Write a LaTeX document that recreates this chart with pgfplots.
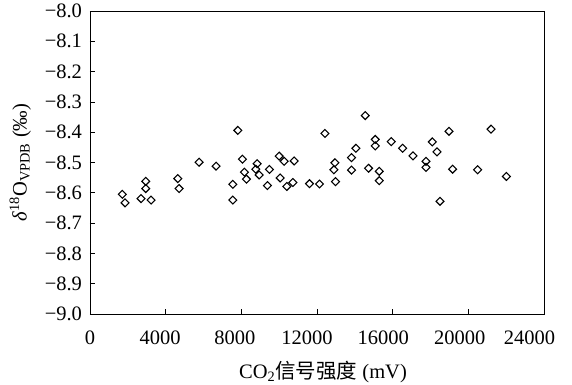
\documentclass[border=0pt]{standalone}
\usepackage{pgfplots}
\pgfplotsset{compat=1.18}
\usepackage{fontspec}
\setmainfont{Liberation Serif}
\newfontfamily\cjk{Noto Sans CJK SC}
\newcommand{\lsh}[2]{\makebox[0pt]{\mbox{#1}\hspace*{#2}}}
\begin{document}
\fontsize{20.5bp}{24bp}\selectfont
\begin{tikzpicture}
\begin{axis}[
  scale only axis,
  width=454bp, height=303bp,
  xmin=0, xmax=24000, ymin=-9, ymax=-8,
  scaled x ticks=false, scaled y ticks=false,
  xtick={0,4000,8000,12000,16000,20000,24000},
  xticklabels={\mbox{0},\lsh{4000}{11bp},\lsh{8000}{13bp},\lsh{12000}{20bp},\lsh{16000}{19bp},\lsh{20000}{17bp},\lsh{24000}{29bp}},
  ytick={-9,-8.9,-8.8,-8.7,-8.6,-8.5,-8.4,-8.3,-8.2,-8.1,-8},
  yticklabels={\mbox{−9.0},\mbox{−8.9},\mbox{−8.8},\mbox{−8.7},\mbox{−8.6},\mbox{−8.5},\mbox{−8.4},\mbox{−8.3},\mbox{−8.2},\mbox{−8.1},\mbox{−8.0}},
  tick align=inside,
  xtick pos=bottom, ytick pos=left,
  major tick length=5bp,
  axis line style={line width=1pt},
  tick style={line width=0.8pt, black},
  ticklabel style={font=\fontsize{20.5bp}{24bp}\selectfont},
  xticklabel style={yshift=-10bp},
  yticklabel style={xshift=-1bp},
  xlabel={CO\textsubscript{2}{\cjk 信号强度} (mV)},
  ylabel={\textit{δ}\textsuperscript{18}O\textsubscript{VPDB} (‰)},
  label style={font=\fontsize{20.5bp}{24bp}\selectfont},
  xlabel style={yshift=-2bp, xshift=6bp},
  ylabel style={yshift=0bp},
]
\addplot[only marks, mark=square, mark size=2.8bp, mark options={rotate=45, line width=1.1pt, black, fill=white}] coordinates {
(1709,-8.605) (1852,-8.633) (2698,-8.619) (2947,-8.562) (2947,-8.586)
(3228,-8.624) (4640,-8.553) (4709,-8.586) (5767,-8.499) (6667,-8.512)
(7815,-8.394) (7550,-8.572) (7550,-8.624) (8058,-8.489) (8164,-8.532)
(8270,-8.555) (8836,-8.504) (8767,-8.522) (8942,-8.541) (9487,-8.523)
(9381,-8.576) (10000,-8.479) (10053,-8.551) (10265,-8.496) (10794,-8.495)
(10407,-8.579) (10725,-8.566) (11603,-8.570) (12132,-8.571) (12418,-8.404)
(12947,-8.501) (12894,-8.524) (12979,-8.563) (13825,-8.484) (14058,-8.453)
(13825,-8.525) (14550,-8.345) (14725,-8.519) (15079,-8.424) (15079,-8.445)
(15291,-8.529) (15291,-8.560) (15926,-8.431) (16524,-8.453) (17074,-8.478)
(17762,-8.496) (17762,-8.516) (18095,-8.432) (18344,-8.465) (18503,-8.628)
(18979,-8.397) (19169,-8.522) (20492,-8.524) (21201,-8.390) (22011,-8.546)
};
\end{axis}
\pgfresetboundingbox
\path[use as bounding box] (current axis.south west) ++(-90bp,-71bp) rectangle ++(572bp,385bp);
\end{tikzpicture}
\end{document}
